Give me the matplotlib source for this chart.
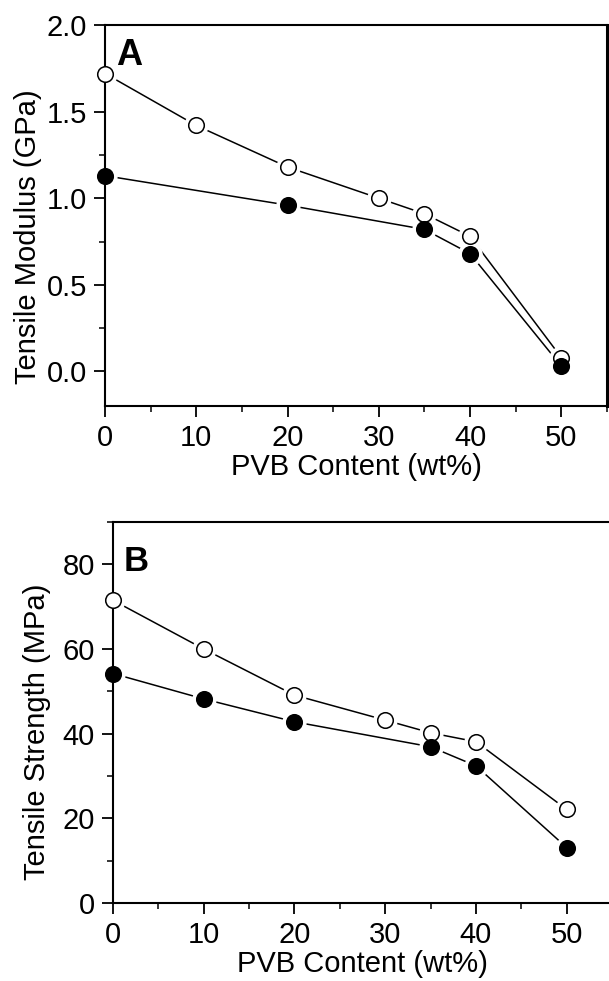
import matplotlib
matplotlib.use("Agg")
import matplotlib.pyplot as plt
from matplotlib.ticker import MultipleLocator

plt.rcParams['font.family'] = ['Liberation Sans', 'DejaVu Sans']

# panel A: tensile modulus (GPa)
mod_open_x = [0, 10, 20, 30, 35, 40, 50]
mod_open_y = [1.72, 1.42, 1.18, 1.00, 0.91, 0.78, 0.08]
mod_fill_x = [0, 20, 35, 40, 50]
mod_fill_y = [1.13, 0.96, 0.82, 0.68, 0.03]

# panel B: tensile strength (MPa)
str_open_x = [0, 10, 20, 30, 35, 40, 50]
str_open_y = [71.5, 60.0, 49.1, 43.2, 40.2, 38.1, 22.1]
str_fill_x = [0, 10, 20, 35, 40, 50]
str_fill_y = [54.2, 48.2, 42.8, 36.9, 32.4, 13.1]

xlabel = 'PVB Content (wt%)'
ylabels = ['Tensile Modulus (GPa)', 'Tensile Strength (MPa)']
panel_tags = ['A', 'B']


def draw_series(ax, x, y):
    ax.plot(x, y, color='black', lw=1.1, zorder=1, clip_on=False)
    # white halo so the line stops short of each marker
    ax.plot(x, y, ls='none', marker='o', ms=16.5, mfc='white', mec='white',
            zorder=2, clip_on=False)


def draw_markers(ax, x, y, filled):
    face = 'black' if filled else 'white'
    ax.plot(x, y, ls='none', marker='o', ms=11.2, mfc=face, mec='black',
            mew=1.1, zorder=3, clip_on=False)


def style_axes(ax, ymaj, ymin):
    ax.xaxis.set_major_locator(MultipleLocator(10))
    ax.xaxis.set_minor_locator(MultipleLocator(5))
    ax.yaxis.set_major_locator(MultipleLocator(ymaj))
    ax.yaxis.set_minor_locator(MultipleLocator(ymin))
    ax.tick_params(which='major', direction='out', length=8, width=1.3,
                   labelsize=21, pad=5)
    ax.tick_params(which='minor', direction='out', length=4.5, width=1.1)
    for s in ax.spines.values():
        s.set_linewidth(1.5)
    ax.spines['right'].set_linewidth(2.2)


fig = plt.figure(figsize=(6.09, 9.81), dpi=100)

# panel A
ax1 = fig.add_axes([0.1724, 0.5861, 0.8243, 0.3884])
draw_series(ax1, mod_open_x, mod_open_y)
draw_series(ax1, mod_fill_x, mod_fill_y)
draw_markers(ax1, mod_open_x, mod_open_y, False)
draw_markers(ax1, mod_fill_x, mod_fill_y, True)
ax1.set_xlim(0, 55)
ax1.set_ylim(-0.2, 2.0)
style_axes(ax1, 0.5, 0.25)
ax1.set_xlabel(xlabel, fontsize=21, labelpad=1)
ax1.set_ylabel(ylabels[0], fontsize=21)
ax1.yaxis.set_label_coords(-0.125, 0.445)
ax1.text(0.022, 0.965, panel_tags[0], transform=ax1.transAxes, fontsize=26,
         fontweight='bold', va='top', ha='left')

# panel B
ax2 = fig.add_axes([0.1856, 0.0795, 0.8194, 0.3884])
draw_series(ax2, str_open_x, str_open_y)
draw_series(ax2, str_fill_x, str_fill_y)
draw_markers(ax2, str_open_x, str_open_y, False)
draw_markers(ax2, str_fill_x, str_fill_y, True)
ax2.set_xlim(0, 55)
ax2.set_ylim(0, 90)
style_axes(ax2, 20, 10)
ax2.set_xlabel(xlabel, fontsize=21, labelpad=1)
ax2.set_ylabel(ylabels[1], fontsize=21)
ax2.yaxis.set_label_coords(-0.125, 0.449)
ax2.text(0.022, 0.94, panel_tags[1], transform=ax2.transAxes, fontsize=25,
         fontweight='bold', va='top', ha='left')

fig.savefig('out.png', dpi=100)
